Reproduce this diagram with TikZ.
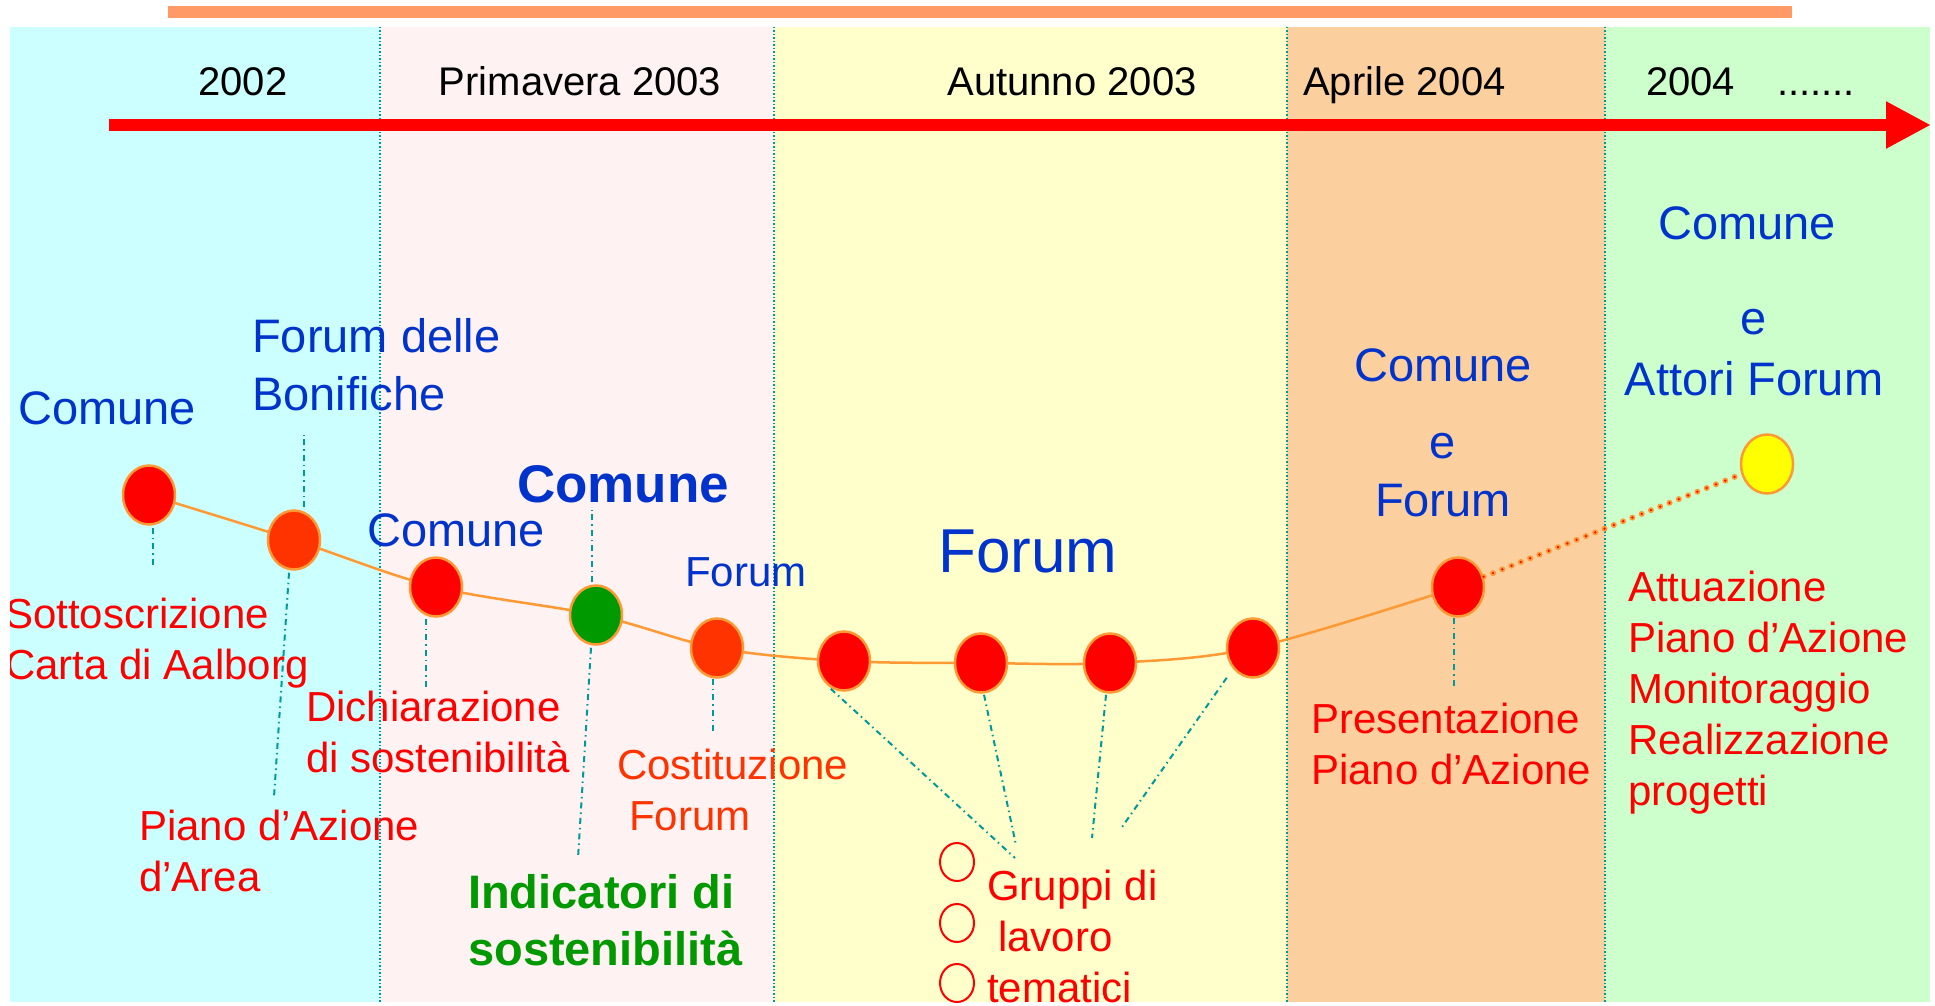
\documentclass[tikz,border=0pt]{standalone}
\usepackage{fontspec}
\setmainfont{Liberation Sans}
\usetikzlibrary{shapes.geometric, arrows.meta, backgrounds}
\definecolor{bandcyan}{RGB}{204,255,255}
\definecolor{bandpink}{RGB}{255,242,242}
\definecolor{bandyellow}{RGB}{255,255,204}
\definecolor{bandorange}{RGB}{252,208,158}
\definecolor{bandgreen}{RGB}{204,255,204}
\definecolor{barorange}{RGB}{255,153,102}
\definecolor{ringorange}{RGB}{255,153,51}
\definecolor{actorblue}{RGB}{0,51,204}
\definecolor{eventred}{RGB}{255,0,0}
\definecolor{forumred}{RGB}{255,51,0}
\definecolor{indgreen}{RGB}{0,153,0}
\definecolor{sunyellow}{RGB}{255,255,0}
\definecolor{leaderteal}{RGB}{0,153,153}

\tikzset{
  yearlbl/.style={font=\fontsize{40}{48}\selectfont, inner sep=0pt},
  actorlbl/.style={text=actorblue, font=\fontsize{47}{58}\selectfont, inner sep=0pt, align=center},
  eventlbl/.style={text=eventred, font=\fontsize{42}{51}\selectfont, inner sep=0pt, align=left, anchor=base west},
  stagedot/.style={ellipse, draw=ringorange, line width=2.5pt, minimum width=52pt, minimum height=59pt, inner sep=0pt},
  groupring/.style={ellipse, draw=eventred, line width=2pt, minimum width=34pt, minimum height=38pt, inner sep=0pt},
  leader/.style={leaderteal, line width=2pt, dash pattern=on 6pt off 4pt on 1.5pt off 4pt},
  dotlink/.style={line cap=round, dash pattern=on 0pt off 10pt},
}

\begin{document}
\begin{tikzpicture}[x=1pt, y=-1pt]
  \useasboundingbox (0,0) rectangle (1935,1006);

  % time bands
  \begin{pgfonlayer}{background}
    \fill[bandcyan] (10,27) rectangle (380,1002);
    \fill[bandpink] (380,27) rectangle (774,1002);
    \fill[bandyellow] (774,27) rectangle (1287,1002);
    \fill[bandorange] (1287,27) rectangle (1605,1002);
    \fill[bandgreen] (1605,27) rectangle (1930,1002);
    \foreach \x in {380,774,1287,1605}
      \draw[leaderteal, line width=1.5pt, dotted] (\x,27) -- (\x,1002);
  \end{pgfonlayer}

  % top bar and time arrow
  \fill[barorange] (168,6) rectangle (1792,18);
  \coordinate (tstart) at (109,125);
  \coordinate (tend) at (1931,125);
  \draw[eventred, line width=12pt, -{Triangle[length=45pt, width=44pt]}] (tstart) -- (tend);

  % periods
  \node[yearlbl, anchor=base] (y2002) at (243,96) {2002};
  \node[yearlbl, anchor=base] (yprim) at (580,96) {Primavera 2003};
  \node[yearlbl, anchor=base] (yaut) at (1072,96) {Autunno 2003};
  \node[yearlbl, anchor=base west] (yapr) at (1303,96) {Aprile 2004};
  \node[yearlbl, anchor=base west] (y2004) at (1646,96) {2004\hspace{42pt}.......};

  % stages
  \foreach \n/\x/\y/\c in {1/149/495/eventred, 2/294/540/forumred, 3/436/587/eventred,
      4/596/615/indgreen, 5/717/648/forumred, 6/844/661/eventred, 7/981/663/eventred,
      8/1110/663/eventred, 9/1253/648/eventred, 10/1458/587/eventred, 11/1767/464/sunyellow}
    \node[stagedot, fill=\c] (c\n) at (\x,\y) {};

  \begin{pgfonlayer}{background}
    \draw[ringorange, line width=2.5pt] plot[smooth, tension=0.55]
      coordinates {(c1) (c2) (c3) (c4) (c5) (c6) (c7) (c8) (c9) (c10)};
  \end{pgfonlayer}
  \draw[ringorange, line width=6pt, dotlink] (c10) -- (c11);
  \draw[eventred, line width=2.5pt, dotlink] (c10) -- (c11);

  % who (base = last line)
  \node[actorlbl, anchor=base] (comA) at (107,424) {Comune};
  \node[actorlbl, anchor=base west, align=left] (forBon) at (252,410) {Forum delle\\Bonifiche};
  \node[actorlbl, anchor=base west] (comB) at (367,546) {Comune};
  \node[actorlbl, anchor=base, font=\fontsize{53}{60}\selectfont\bfseries] (comC) at (623,502) {Comune};
  \node[actorlbl, anchor=base west, font=\fontsize{42}{50}\selectfont] (forA) at (685,586) {Forum};
  \node[actorlbl, anchor=base, font=\fontsize{62}{70}\selectfont] (forB) at (1028,572) {Forum};
  \node[actorlbl, anchor=base] (comD) at (1443,516) {Comune\\[19pt]e\\Forum};
  \node[actorlbl, anchor=base] (comE) at (1754,395) {\hspace*{-14pt}Comune\\[37pt]e\\[3pt]Attori Forum};

  % what
  \begin{scope}
    \clip (10,27) rectangle (1930,1002);
    \node[eventlbl] (sotto) at (5,679) {Sottoscrizione\\Carta di Aalborg};
  \end{scope}
  \node[eventlbl] (pianoA) at (139,891) {Piano d’Azione\\d’Area};
  \node[eventlbl] (dich) at (306,772) {Dichiarazione\\di sostenibilità};
  \node[eventlbl, text=forumred] (cost) at (617,830) {Costituzione\\\hspace*{12pt}Forum};
  \node[eventlbl, text=indgreen, font=\fontsize{47}{57}\selectfont\bfseries] (indic) at (468,965) {Indicatori di\\sostenibilità};
  \node[eventlbl] (grup) at (987,1002) {Gruppi di\\\hspace*{11pt}lavoro\\tematici};
  \node[groupring] (g1) at (957,862) {};
  \node[groupring] (g2) at (957,923) {};
  \node[groupring] (g3) at (957,983) {};
  \node[eventlbl] (pres) at (1311,784) {Presentazione\\Piano d’Azione};
  \node[eventlbl] (attu) at (1628,805) {Attuazione\\Piano d’Azione\\Monitoraggio\\Realizzazione\\progetti};

  % leaders
  \coordinate (l1) at (153,568);
  \coordinate (l2a) at (304,435);
  \coordinate (l2b) at (274,797);
  \coordinate (l3) at (426,688);
  \coordinate (l4a) at (592,510);
  \coordinate (l4b) at (578,858);
  \coordinate (l5) at (713,735);
  \coordinate (l6) at (1015,858);
  \coordinate (l7) at (1016,845);
  \coordinate (l8) at (1092,838);
  \coordinate (l9) at (1122,827);
  \coordinate (l10) at (1454,688);
  \draw[leader] (c1.south) ++(4,2) -- (l1);
  \draw[leader] (c2.north) ++(10,-2) -- (l2a);
  \draw[leader] (c2.south) ++(-5,2) -- (l2b);
  \draw[leader] (c3.south) ++(-10,1) -- (l3);
  \draw[leader] (c4.north) ++(-4,-2) -- (l4a);
  \draw[leader] (c4.south) ++(-5,2) -- (l4b);
  \draw[leader] (c5.south) ++(-4,0) -- (l5);
  \draw[leader] (c6.south west) ++(6,6) -- (l6);
  \draw[leader] (c7.south) ++(3,1) -- (l7);
  \draw[leader] (c8.south) ++(-4,1) -- (l8);
  \draw[leader] (c9.south west) ++(-7,8) -- (l9);
  \draw[leader] (c10.south) ++(-4,0) -- (l10);
\end{tikzpicture}
\end{document}
